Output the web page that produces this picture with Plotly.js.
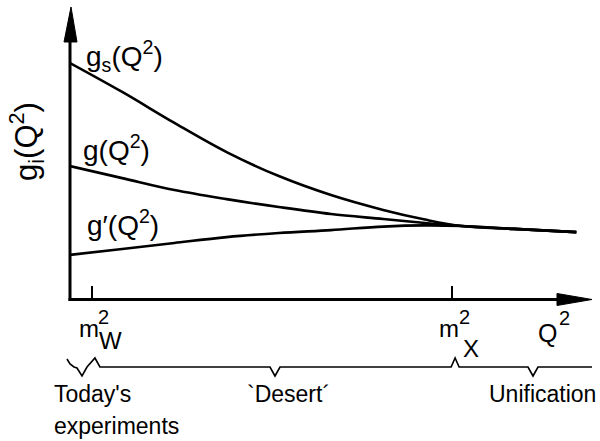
<!DOCTYPE html>
<html>
<head>
<meta charset="utf-8">
<script src="https://cdn.plot.ly/plotly-3.0.1.min.js"></script>
<style>
  html, body { margin: 0; padding: 0; background: #fff; }
  #chart { width: 600px; height: 441px; }
</style>
</head>
<body>
<div id="chart"></div>
<script>
// Running couplings versus momentum transfer Q^2 (schematic, arbitrary units)
const qSquared   = [0, 10, 20, 30, 40, 50, 60, 68, 75, 85, 97];
const gStrong    = [80.8, 70.9, 60.3, 50.3, 42.1, 35.6, 30.5, 27.2, 25.0, 24.0, 22.9]; // g_s(Q^2)
const gWeak      = [45.5, 41.4, 37.3, 34.2, 31.5, 29.1, 27.4, 26.0, 25.0, 24.0, 22.9]; // g(Q^2)
const gHyper     = [15.1, 17.1, 19.2, 21.2, 22.6, 23.6, 24.8, 25.2, 25.0, 24.0, 22.9]; // g'(Q^2)

// mass scales marked on the Q^2 axis
const scaleNames = ['W', 'X'];
const scalePos   = [4.2, 73.2];

// regions under the axis
const regionLabels = ["Today's", "`Desert´", 'Unification'];

const FONT = 'Liberation Sans, Arial, sans-serif';
const X0 = 0, X1 = 100, Y0 = 0, Y1 = 100;
const L = 70, T = 7, W = 522, H = 292;

const px2p = px => (px - L) / W;
const py2p = py => (T + H - py) / H;
const d2px = x => L + (x - X0) / (X1 - X0) * W;

function pathOf(points) {
  return points.map((p, i) => (i ? 'L' : 'M') + px2p(p[0]).toFixed(5) + ',' + py2p(p[1]).toFixed(5)).join(' ');
}

const lineStyle = { color: '#000', width: 2.6, shape: 'spline', smoothing: 1 };
const traces = [gStrong, gWeak, gHyper].map(ys => ({
  x: qSquared, y: ys, type: 'scatter', mode: 'lines',
  line: lineStyle, hoverinfo: 'skip', showlegend: false
}));

// axes drawn with arrowheads
const shapes = [
  { type: 'path', xref: 'paper', yref: 'paper', path: pathOf([[70, 301], [70, 40]]), line: { color: '#000', width: 3 } },
  { type: 'path', xref: 'paper', yref: 'paper', path: pathOf([[64, 42], [71, 7], [77, 42]]) + ' Z',
    fillcolor: '#000', line: { color: '#000', width: 1 } },
  { type: 'path', xref: 'paper', yref: 'paper', path: pathOf([[68.5, 299.5], [560, 299.5]]), line: { color: '#000', width: 3 } },
  { type: 'path', xref: 'paper', yref: 'paper', path: pathOf([[557, 293.5], [592, 299.5], [557, 305.5]]) + ' Z',
    fillcolor: '#000', line: { color: '#000', width: 1 } }
];

// brace row below the axis: peaks at the mass scales, dips under each region
const pW = d2px(scalePos[0]) + 3, pX = d2px(scalePos[1]) + 3;
const base = 367, dip = 376, peak = 358;
const dipToday = 82, dipDesert = 275, dipUnif = 533;
const bracePts = [
  [67, 359], [70, 364], [74, 367], [77, 368],
  [dipToday, dip], [dipToday + 5, base],
  [pW, peak], [pW + 5, base],
  [dipDesert - 5, base], [dipDesert, dip], [dipDesert + 5, base],
  [pX - 4, base], [pX, peak], [pX + 4, base],
  [dipUnif - 5, base], [dipUnif, dip], [dipUnif + 5, base],
  [592, base]
];
shapes.push({ type: 'path', xref: 'paper', yref: 'paper', path: pathOf(bracePts),
  line: { color: '#000', width: 1.6 } });

function note(text, px, py, size, opts) {
  return Object.assign({
    text: text, xref: 'paper', yref: 'paper', x: px2p(px), y: py2p(py),
    xanchor: 'center', yanchor: 'middle', showarrow: false,
    font: { family: FONT, size: size, color: '#000' }
  }, opts || {});
}

const annotations = [
  // curve labels
  note('g<sub>s</sub>(Q<sup>2</sup>)', 84, 56, 28, { xanchor: 'left' }),
  note('g(Q<sup>2</sup>)', 81, 148, 28, { xanchor: 'left' }),
  note('g′(Q<sup>2</sup>)', 85, 223, 28, { xanchor: 'left' }),
  // vertical axis label
  note('g<sub>i</sub>(Q<sup>2</sup>)', 26, 142, 31, { textangle: -90 }),
  // horizontal axis label
  note('Q', 547.5, 333, 25),
  note('2', 564, 318, 20),
  // region labels
  note(regionLabels[0], 52, 394, 23, { xanchor: 'left' }),
  note('experiments', 52, 426, 23, { xanchor: 'left' }),
  note(regionLabels[1], 288, 394, 23),
  note(regionLabels[2], 598, 394, 23, { xanchor: 'right' })
];
// mass-scale labels m^2 with the subscript stacked under the exponent
scalePos.forEach((s, i) => {
  const cx = d2px(s);
  annotations.push(note('m', cx - 3, 328, 24));
  annotations.push(note('2', cx + 12, 317, 20));
  annotations.push(note(scaleNames[i], cx + 19, i === 0 ? 340 : 348, 24));
});

const layout = {
  width: 600, height: 441,
  margin: { l: L, r: 600 - L - W, t: T, b: 441 - T - H, pad: 0 },
  paper_bgcolor: '#fff', plot_bgcolor: '#fff',
  showlegend: false,
  xaxis: {
    range: [X0, X1], showgrid: false, zeroline: false, showline: false,
    tickmode: 'array', tickvals: scalePos, ticktext: scaleNames.map(() => ''),
    ticks: 'inside', ticklen: 13, tickwidth: 1.5, tickcolor: '#000',
    showticklabels: false, fixedrange: true
  },
  yaxis: {
    range: [Y0, Y1], showgrid: false, zeroline: false, showline: false,
    ticks: '', showticklabels: false, fixedrange: true
  },
  shapes: shapes,
  annotations: annotations
};

Plotly.newPlot('chart', traces, layout, { displayModeBar: false, staticPlot: true });
</script>
</body>
</html>
